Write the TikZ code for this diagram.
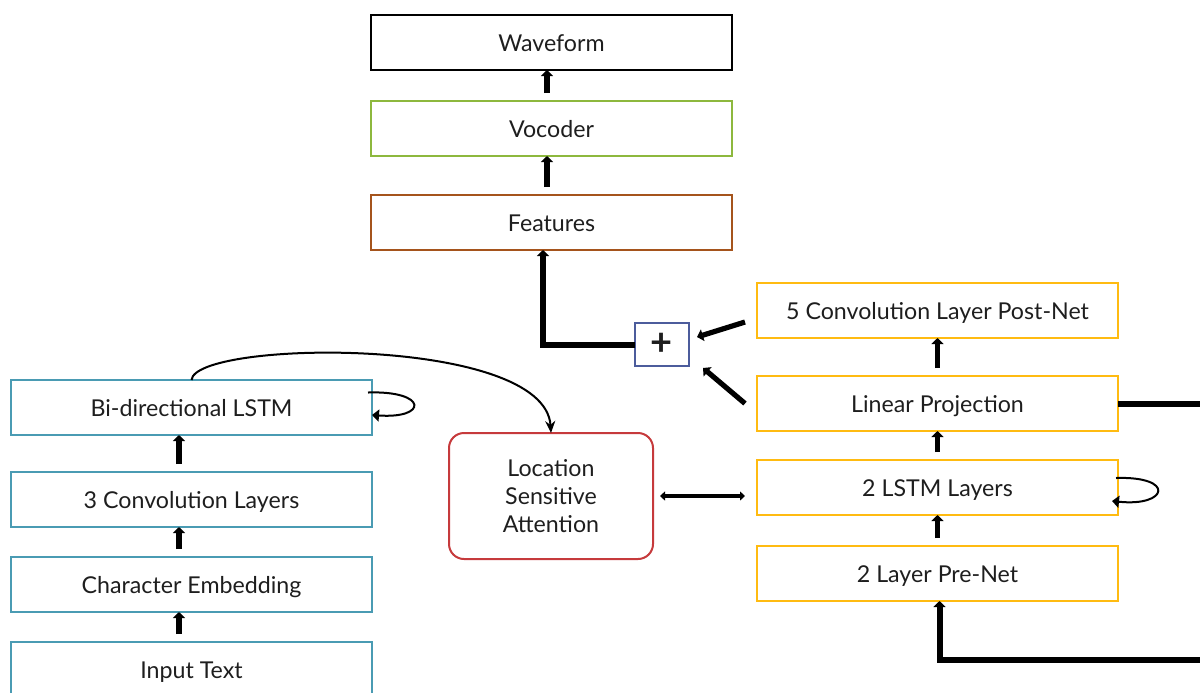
\documentclass[tikz,border=0pt]{standalone}
\usepackage{fontspec}
\setmainfont{Lato}
\usetikzlibrary{positioning}
\usetikzlibrary{arrows.meta}
\definecolor{enccol}{HTML}{4A9BB3}
\definecolor{voccol}{HTML}{8DB83E}
\definecolor{featcol}{HTML}{A5541C}
\definecolor{deccol}{HTML}{FFBB11}
\definecolor{attcol}{HTML}{C63A3C}
\definecolor{pluscol}{HTML}{4C5C9C}
\definecolor{txtcol}{HTML}{1E1E1E}

\begin{document}
\begin{tikzpicture}[x=0.5pt, y=-0.5pt, align=center, text=txtcol,
    font=\fontsize{11.6}{14}\selectfont,
    box/.style={draw, rectangle, line width=1pt, outer sep=0pt, minimum width=180.5pt, minimum height=27.5pt, inner sep=0pt, text height=2.1ex, text depth=0.4ex},
    arrow/.style={-{Triangle[length=3pt, width=6pt]}, line width=2.6pt, shorten <=4pt},
    loopline/.style={-{Triangle[length=3.5pt, width=6pt]}, line width=1pt}]
    \useasboundingbox (0,0) rectangle (1200,692);
    \clip (0,0) rectangle (1200,692);

    % vocoder column
    \node[box] (wave) at (551.5,42.5) {Waveform};
    \node[box, draw=voccol, below=15.5pt of wave] (vocoder) {Vocoder};
    \node[box, draw=featcol, below=19.5pt of vocoder] (features) {Features};

    % decoder
    \node[box, draw=deccol] (postnet) at (937.5,310.5) {5 Convolution Layer Post-Net};
    \node[box, draw=deccol, below=19pt of postnet] (linproj) {Linear Projection};
    \node[box, draw=deccol, below=14.5pt of linproj] (declstm) {2 LSTM Layers};
    \node[box, draw=deccol, below=15.5pt of declstm] (prenet) {2 Layer Pre-Net};

    % encoder
    \node[box, draw=enccol] (bilstm) at (191.5,407.5) {Bi-directional LSTM};
    \node[box, draw=enccol, below=18.5pt of bilstm] (conv) {3 Convolution Layers};
    \node[box, draw=enccol, below=15pt of conv] (embed) {Character Embedding};
    \node[box, draw=enccol, below=15pt of embed] (input) {Input Text};

    \node[draw=attcol, line width=1pt, outer sep=0pt, rounded corners=7.5pt, minimum width=102pt, minimum height=63pt] (attn) at (551,496) {Location\\Sensitive\\Attention};
    \node[draw=pluscol, line width=1pt, outer sep=0pt, minimum width=27pt, minimum height=21.5pt, inner sep=0pt, font=\fontsize{19}{19}\selectfont\bfseries] (plus) at (662,344.5) {+};

    \coordinate (outr) at (1200,404);
    \coordinate (backr) at (1200,660);

    \draw[arrow] ([xshift=-2.25pt]vocoder.north) -- ([xshift=-2.25pt]wave.south);
    \draw[arrow] ([xshift=-2.25pt]features.north) -- ([xshift=-2.25pt]vocoder.south);
    \draw[arrow, shorten <=0pt, line width=3pt] (plus.west) -| ([xshift=-4.25pt]features.south);
    \draw[arrow, shorten <=0pt] ([xshift=-6pt, yshift=-5.75pt]postnet.west) -- ([xshift=4pt, yshift=3.75pt]plus.east);
    \draw[arrow, shorten <=0pt] ([xshift=-6pt]linproj.west) -- ([xshift=7pt, yshift=-1pt]plus.south east);

    \draw[arrow] (linproj.north) -- (postnet.south);
    \draw[arrow] (declstm.north) -- (linproj.south);
    \draw[arrow] (prenet.north) -- (declstm.south);
    \draw[line width=3pt] (linproj.east) -- (linproj.east -| outr);
    \draw[arrow, shorten <=0pt, line width=3pt] (backr) -| ([xshift=1pt]prenet.south);

    \draw[arrow] ([xshift=-6.25pt]conv.north) -- ([xshift=-6.25pt]bilstm.south);
    \draw[arrow] ([xshift=-6.25pt]embed.north) -- ([xshift=-6.25pt]conv.south);
    \draw[arrow] ([xshift=-6.25pt]input.north) -- ([xshift=-6.25pt]embed.south);

    \draw[{Triangle[length=2.5pt, width=4.5pt]}-{Triangle[length=2.5pt, width=4.5pt]}, line width=2pt] ([xshift=3.5pt]attn.east) -- ([xshift=-6pt]attn.east -| declstm.west);

    % self loops
    \draw[loopline] ([xshift=-2pt, yshift=7.5pt]bilstm.east) .. controls +(30pt,1pt) and +(28pt,-2pt) .. ([yshift=-3.75pt]bilstm.east);
    \draw[loopline] ([xshift=-1pt, yshift=4.75pt]declstm.east) .. controls +(30pt,1pt) and +(28pt,-3pt) .. ([xshift=-3pt, yshift=-6.75pt]declstm.east);

    % attention input
    \draw[loopline, -{Stealth[length=6pt, width=5pt]}] (bilstm.north) .. controls (195,340) and (545,335) .. (attn.north);
\end{tikzpicture}
\end{document}
